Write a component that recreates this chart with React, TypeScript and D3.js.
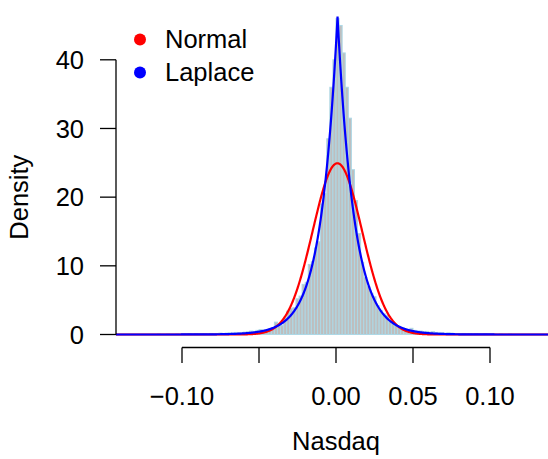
import * as d3 from "d3";

// histogram of daily Nasdaq returns, bins of 0.002 starting at -0.12
const binStart = -0.12;
const binWidth = 0.002;
const density = [
  // -0.120 .. -0.100
  0, 0, 0.05, 0, 0, 0.05, 0, 0, 0.05, 0, 0.05,
  // -0.098 .. -0.080
  0.05, 0.1, 0, 0.1, 0.05, 0.1, 0.1, 0.05, 0.15, 0.1,
  // -0.078 .. -0.060
  0.15, 0.2, 0.1, 0.2, 0.25, 0.2, 0.3, 0.25, 0.3, 0.35,
  // -0.058 .. -0.048
  0.4, 0.5, 0.45, 0.6, 0.7, 0.6,
  // -0.046 .. -0.002
  0.6, 0.8, 1.0, 1.8, 1.6, 1.3, 2.4, 3.4, 3.8, 3.9, 5.2, 5.6,
  7.3, 7.6, 10.2, 10.6, 12.6, 13.5, 19.0, 20.5, 28.5, 36.0, 40.0,
  // 0.000 .. 0.052
  46.0, 45.0, 41.0, 36.0, 31.5, 24.0, 19.5, 14.7, 10.5, 8.3, 7.0, 6.0,
  5.5, 4.2, 3.5, 3.0, 2.8, 1.8, 1.5, 1.3, 1.2, 1.0, 0.8, 0.7, 0.9, 0.6, 0.5,
  // 0.054 .. 0.118
  0.5, 0.4, 0.45, 0.35, 0.4, 0.3, 0.3, 0.25, 0.2, 0.25, 0.2, 0.15, 0.15,
  0.1, 0.15, 0.1, 0.1, 0.05, 0.1, 0.05, 0.05, 0.1, 0.05, 0, 0.05, 0, 0.05,
  0, 0, 0.05, 0, 0, 0,
];

// fitted parameters
const normalMean = 0.0009;
const normalSd = 0.016;
const laplaceLoc = 0.001;
const laplaceScale = 0.0108;

const xTicks = [-0.1, -0.05, 0, 0.05, 0.1];
const xTickLabels = ["\u22120.10", "", "0.00", "0.05", "0.10"];
const yTicks = [0, 10, 20, 30, 40];

const legendNames = ["Normal", "Laplace"];
const legendColors = ["#ff0000", "#0000ff"];

const font = "'Liberation Sans', Arial, Helvetica, sans-serif";
const fs = 25.5;

export default function App() {
  const x = d3.scaleLinear().domain([-0.1, 0.1]).range([182, 490]);
  const y = d3.scaleLinear().domain([0, 40]).range([334.5, 59.8]);
  const xMin = x.invert(116);
  const xMax = x.invert(556);

  const dnorm = (v: number) =>
    Math.exp(-0.5 * ((v - normalMean) / normalSd) ** 2) / (normalSd * Math.sqrt(2 * Math.PI));
  const dlap = (v: number) => Math.exp(-Math.abs(v - laplaceLoc) / laplaceScale) / (2 * laplaceScale);

  const grid = d3.range(xMin, xMax, 0.0002).concat([laplaceLoc, xMax]).sort((a, b) => a - b);
  const line = d3
    .line<number[]>()
    .x((d) => x(d[0]))
    .y((d) => y(d[1]));
  const normPath = line(grid.map((v) => [v, dnorm(v)])) || "";
  const lapPath = line(grid.map((v) => [v, dlap(v)])) || "";

  return (
    <svg
      width={548}
      height={459}
      style={{ position: "absolute", left: 0, top: 0, background: "#fff" }}
      fontFamily={font}
    >
      <defs>
        <clipPath id="plot">
          <rect x={116} y={0} width={440} height={342} />
        </clipPath>
      </defs>

      {/* histogram */}
      <g clipPath="url(#plot)">
        {density.map((d, i) => {
          const x0 = binStart + i * binWidth;
          return (
            <rect
              key={i}
              x={x(x0)}
              y={y(d)}
              width={x(x0 + binWidth) - x(x0)}
              height={y(0) - y(d)}
              fill="#bebebe"
              stroke="#add8e6"
              strokeWidth={1}
            />
          );
        })}
        <path d={normPath} fill="none" stroke="#ff0000" strokeWidth={2.2} />
        <path d={lapPath} fill="none" stroke="#0000ff" strokeWidth={2.2} />
      </g>

      {/* y axis */}
      <g stroke="#000" strokeWidth={1.3}>
        <line x1={116} x2={116} y1={y(40)} y2={y(0)} />
        {yTicks.map((t) => (
          <line key={t} x1={100} x2={116} y1={y(t)} y2={y(t)} />
        ))}
      </g>
      {yTicks.map((t) => (
        <text key={t} x={84} y={y(t) + 9.1} fontSize={fs} textAnchor="end">
          {t}
        </text>
      ))}
      <text transform={`translate(28,${(y(0) + y(40)) / 2}) rotate(-90)`} fontSize={fs} textAnchor="middle">
        Density
      </text>

      {/* x axis */}
      <g stroke="#000" strokeWidth={1.3}>
        <line x1={x(-0.1)} x2={x(0.1)} y1={347.5} y2={347.5} />
        {xTicks.map((t) => (
          <line key={t} x1={x(t)} x2={x(t)} y1={347.5} y2={363} />
        ))}
      </g>
      {xTicks.map((t, i) => (
        <text key={t} x={x(t)} y={405} fontSize={fs} textAnchor="middle">
          {xTickLabels[i]}
        </text>
      ))}
      <text x={336} y={450} fontSize={fs} textAnchor="middle">
        Nasdaq
      </text>

      {/* legend */}
      {legendNames.map((name, i) => (
        <g key={name}>
          <circle cx={140} cy={39.5 + i * 33} r={6} fill={legendColors[i]} />
          <text x={165} y={47.5 + i * 33} fontSize={fs}>
            {name}
          </text>
        </g>
      ))}
    </svg>
  );
}
